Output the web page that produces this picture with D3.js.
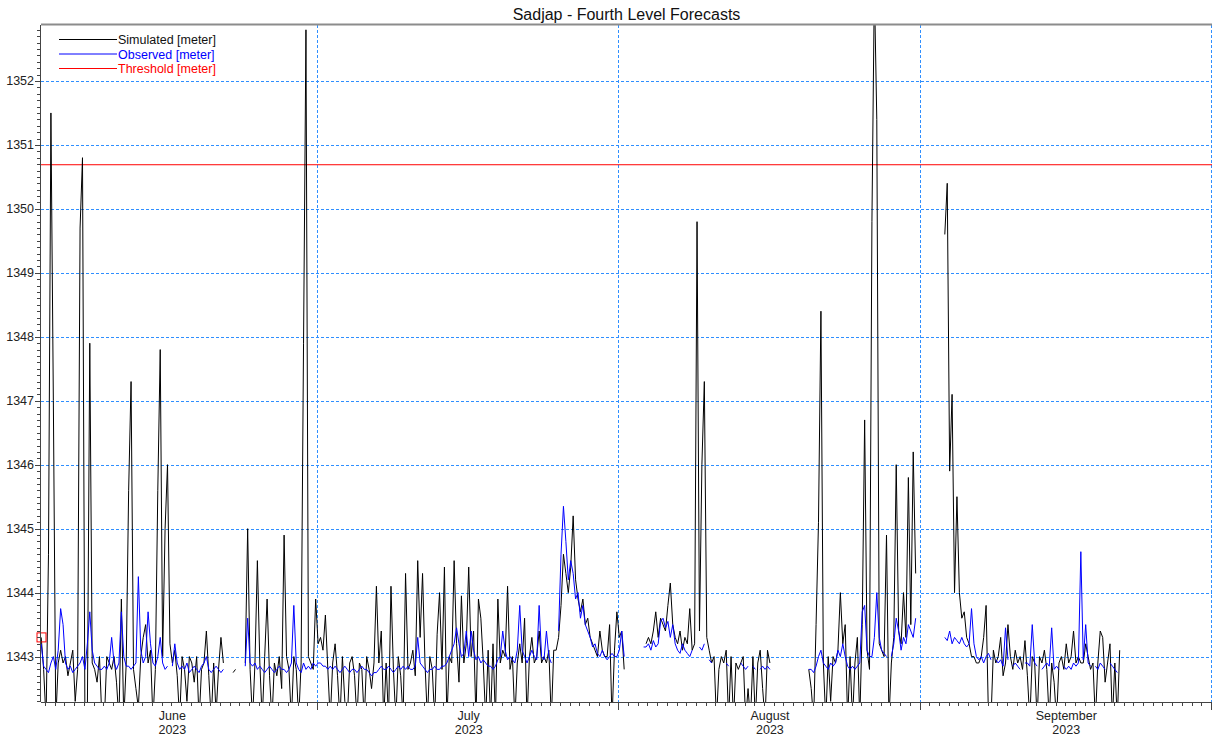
<!DOCTYPE html>
<html><head><meta charset="utf-8">
<script src="https://cdn.jsdelivr.net/npm/d3@7"></script>
<style>
html,body{margin:0;padding:0;background:#fff;}
svg text{font-family:"Liberation Sans",Arial,sans-serif;}
</style>
</head><body>
<svg id="chart" width="1214" height="739"></svg>
<script>
// ---------- data ----------
const chartTitle = "Sadjap - Fourth Level Forecasts";
const seriesNames = ["Simulated [meter]", "Observed [meter]", "Threshold [meter]"];
const seriesColors = ["#000000", "#0000ff", "#ff0000"];
const startTime = "2023-06-02T00:00:00Z";   // each row: 00:00, 06:00, 12:00, 18:00
const stepHours = 6;
const domainStart = "2023-06-02T11:30:00Z";
const domainEnd = "2023-10-01T00:00:00Z";
const yMin = 1342.29, yMax = 1352.875;
const yTickValues = [1343, 1344, 1345, 1346, 1347, 1348, 1349, 1350, 1351, 1352];
const monthLabels = ["June", "July", "August", "September"];
const yearLabel = "2023";
const thresholdValue = 1350.69;
const currentMarkerValue = 1343.3;
const N = null;

const simulated = [
/*Jun02*/ N,N,1343.3,1342.8,
/*Jun03*/ 1342.0,1344.6,1351.5,1347.0,
/*Jun04*/ 1342.0,1342.9,1343.1,1342.9,
/*Jun05*/ 1343.0,1342.7,1342.9,1343.1,
/*Jun06*/ 1342.3,1342.8,1349.7,1350.8,
/*Jun07*/ 1342.0,1342.1,1347.9,1342.9,
/*Jun08*/ 1342.8,1342.6,1343.0,1342.0,
/*Jun09*/ 1342.0,1343.0,1342.9,1342.8,
/*Jun10*/ 1343.0,1342.6,1342.0,1343.9,
/*Jun11*/ 1342.0,1342.9,1345.6,1347.3,
/*Jun12*/ 1342.8,1342.5,1342.2,1343.0,
/*Jun13*/ 1343.3,1343.5,1342.9,1343.1,
/*Jun14*/ 1342.0,1342.8,1345.6,1347.8,
/*Jun15*/ 1343.0,1345.0,1346.0,1343.2,
/*Jun16*/ 1342.9,1343.1,1342.7,1342.0,
/*Jun17*/ 1343.0,1342.8,1342.3,1343.0,
/*Jun18*/ 1342.9,1342.6,1343.0,1342.0,
/*Jun19*/ 1342.8,1342.9,1343.4,1342.7,
/*Jun20*/ 1342.0,1342.9,1342.1,1342.8,
/*Jun21*/ 1343.3,1342.9,N,N,
/*Jun22*/ N,1342.75,1342.8,N,
/*Jun23*/ N,N,1342.9,1345.0,
/*Jun24*/ 1342.8,1342.0,1342.9,1344.5,
/*Jun25*/ 1342.9,1342.0,1343.0,1343.9,
/*Jun26*/ 1342.7,1342.0,1342.9,1342.7,
/*Jun27*/ 1343.0,1342.5,1344.9,1343.0,
/*Jun28*/ 1342.8,1342.0,1343.0,1342.8,
/*Jun29*/ 1342.0,1342.9,1347.9,1352.8,
/*Jun30*/ 1343.0,1342.9,1342.8,1343.9,
/*Jul01*/ 1343.2,1343.3,1343.1,1343.65,
/*Jul02*/ 1342.8,1342.0,1342.9,1343.2,
/*Jul03*/ 1342.7,1342.0,1343.0,1342.3,
/*Jul04*/ 1342.0,1342.9,1343.0,1342.7,
/*Jul05*/ 1342.0,1342.9,1342.8,1342.0,
/*Jul06*/ 1343.0,1342.8,1342.5,1342.9,
/*Jul07*/ 1344.1,1342.9,1343.4,1342.0,
/*Jul08*/ 1342.9,1342.0,1344.1,1342.8,
/*Jul09*/ 1342.0,1343.0,1342.7,1342.0,
/*Jul10*/ 1344.3,1342.8,1342.9,1343.1,
/*Jul11*/ 1342.7,1344.5,1343.3,1344.3,
/*Jul12*/ 1342.9,1342.0,1343.0,1342.8,
/*Jul13*/ 1342.0,1343.35,1344.0,1342.8,
/*Jul14*/ 1344.4,1342.0,1343.0,1342.9,
/*Jul15*/ 1344.5,1343.2,1342.6,1343.95,
/*Jul16*/ 1342.9,1343.2,1344.4,1343.0,
/*Jul17*/ 1343.4,1342.0,1343.9,1343.6,
/*Jul18*/ 1342.9,1342.0,1343.1,1342.0,
/*Jul19*/ 1343.2,1342.0,1343.9,1342.9,
/*Jul20*/ 1343.1,1343.0,1344.1,1342.8,
/*Jul21*/ 1343.0,1342.0,1342.9,1343.2,
/*Jul22*/ 1342.9,1343.6,1342.0,1343.0,
/*Jul23*/ 1343.3,1342.9,1343.0,1343.4,
/*Jul24*/ 1342.9,1343.0,1342.9,1343.1,
/*Jul25*/ 1342.0,1343.1,1343.1,1343.3,
/*Jul26*/ 1343.8,1344.6,1344.3,1344.0,
/*Jul27*/ 1344.4,1345.2,1344.2,1343.9,
/*Jul28*/ 1343.7,1343.9,1343.5,1343.6,
/*Jul29*/ 1343.3,1343.2,1343.1,1343.0,
/*Jul30*/ 1343.4,1343.1,1343.0,1343.0,
/*Jul31*/ 1343.5,1342.0,1343.1,1343.7,
/*Aug01*/ 1343.3,1343.4,1342.8,N,
/*Aug02*/ N,N,N,N,
/*Aug03*/ N,N,N,1343.2,
/*Aug04*/ 1343.3,1343.2,1343.4,1343.7,
/*Aug05*/ 1343.3,1343.6,1343.5,1343.4,
/*Aug06*/ 1343.8,1344.15,1343.5,1343.3,
/*Aug07*/ 1343.2,1343.4,1343.1,1343.3,
/*Aug08*/ 1343.2,1343.75,1343.1,1343.2,
/*Aug09*/ 1349.8,1343.4,1346.0,1347.3,
/*Aug10*/ 1343.3,1343.1,1342.9,1343.0,
/*Aug11*/ 1342.0,1342.8,1343.0,1342.9,
/*Aug12*/ 1343.1,1342.0,1343.0,1342.0,
/*Aug13*/ 1342.9,1342.8,1342.9,1343.0,
/*Aug14*/ 1342.0,1342.5,1342.0,1343.0,
/*Aug15*/ 1342.0,1342.9,1343.1,1342.5,
/*Aug16*/ 1342.0,1343.1,1342.9,N,
/*Aug17*/ N,N,N,N,
/*Aug18*/ N,N,N,N,
/*Aug19*/ N,N,N,N,
/*Aug20*/ N,N,1342.8,1342.5,
/*Aug21*/ 1342.0,1343.5,1345.1,1348.4,
/*Aug22*/ 1342.9,1342.0,1343.0,1342.3,
/*Aug23*/ 1343.0,1342.9,1343.1,1344.0,
/*Aug24*/ 1343.2,1343.5,1342.0,1343.0,
/*Aug25*/ 1342.0,1342.9,1343.3,1342.0,
/*Aug26*/ 1343.5,1346.7,1343.1,1342.8,
/*Aug27*/ 1349.8,1353.5,1351.4,1343.2,
/*Aug28*/ 1343.1,1343.0,1344.9,1342.0,
/*Aug29*/ 1342.9,1343.3,1346.0,1343.4,
/*Aug30*/ 1343.2,1344.0,1343.3,1345.8,
/*Aug31*/ 1343.5,1346.2,1344.3,N,
/*Sep01*/ N,N,N,N,
/*Sep02*/ N,N,N,N,
/*Sep03*/ N,N,1349.6,1350.4,
/*Sep04*/ 1345.9,1347.1,1344.0,1345.5,
/*Sep05*/ 1344.0,1343.6,1343.7,1343.3,
/*Sep06*/ 1343.2,1343.0,1343.0,1342.9,
/*Sep07*/ 1342.9,1343.0,1343.3,1343.8,
/*Sep08*/ 1342.0,1342.0,1343.1,1342.9,
/*Sep09*/ 1343.0,1343.3,1342.7,1342.9,
/*Sep10*/ 1343.5,1343.0,1342.8,1343.1,
/*Sep11*/ 1342.9,1343.0,1342.8,1343.25,
/*Sep12*/ 1342.7,1342.0,1343.0,1342.9,
/*Sep13*/ 1342.0,1343.0,1342.9,1343.1,
/*Sep14*/ 1342.8,1342.0,1342.9,1342.6,
/*Sep15*/ 1342.0,1342.9,1343.0,1342.8,
/*Sep16*/ 1343.2,1342.9,1343.0,1343.4,
/*Sep17*/ 1342.9,1343.0,1342.9,1342.9,
/*Sep18*/ 1343.2,1343.0,1342.8,1342.9,
/*Sep19*/ 1342.0,1342.9,1343.4,1343.3,
/*Sep20*/ 1342.6,1342.9,1343.2,1342.0,
/*Sep21*/ 1342.9,1342.0,1343.1,N
];

const observed = [
/*Jun02*/ N,N,1343.2,1342.85,
/*Jun03*/ 1342.8,1342.75,1342.9,1343.0,
/*Jun04*/ 1342.8,1343.1,1343.75,1343.5,
/*Jun05*/ 1342.9,1342.8,1342.85,1342.75,
/*Jun06*/ 1342.8,1342.85,1342.9,1343.0,
/*Jun07*/ 1342.8,1343.2,1343.7,1343.1,
/*Jun08*/ 1342.9,1342.85,1342.8,1342.8,
/*Jun09*/ 1342.85,1342.8,1342.9,1343.3,
/*Jun10*/ 1342.9,1342.8,1342.9,1343.7,
/*Jun11*/ 1343.0,1342.85,1342.85,1342.8,
/*Jun12*/ 1342.85,1342.9,1344.25,1343.1,
/*Jun13*/ 1342.9,1343.0,1343.7,1343.2,
/*Jun14*/ 1342.9,1342.85,1343.0,1343.3,
/*Jun15*/ 1342.9,1342.8,1342.85,N,
/*Jun16*/ 1342.85,1343.2,1342.9,1342.8,
/*Jun17*/ 1342.85,1342.8,1342.9,1342.75,
/*Jun18*/ 1342.8,1342.85,1342.8,1342.75,
/*Jun19*/ 1342.85,1342.9,1343.0,1342.8,
/*Jun20*/ 1342.75,1342.8,1342.85,1342.8,
/*Jun21*/ 1342.75,1342.8,N,N,
/*Jun22*/ N,N,1342.9,N,
/*Jun23*/ N,N,1342.85,1343.6,
/*Jun24*/ 1342.9,1342.85,1342.9,1342.8,
/*Jun25*/ 1342.85,1342.8,1342.75,1342.8,
/*Jun26*/ 1342.85,1342.8,1342.75,1342.8,
/*Jun27*/ 1342.85,1342.8,1342.8,1342.75,
/*Jun28*/ 1342.8,1342.9,1343.8,1342.9,
/*Jun29*/ 1342.8,1342.75,1342.9,1342.8,
/*Jun30*/ 1342.85,1342.8,1342.9,1342.85,
/*Jul01*/ 1342.9,1342.9,1342.85,1342.85,
/*Jul02*/ 1342.8,1342.85,1342.8,1342.85,
/*Jul03*/ 1342.8,1342.75,1342.8,1342.85,
/*Jul04*/ 1342.8,1342.75,1342.8,1342.8,
/*Jul05*/ 1342.75,1342.8,1342.85,1342.8,
/*Jul06*/ 1342.8,1342.75,1342.7,1342.75,
/*Jul07*/ 1342.75,1342.8,1342.85,1342.8,
/*Jul08*/ 1342.8,1342.85,1342.8,1342.75,
/*Jul09*/ 1342.8,1342.85,1342.8,1342.85,
/*Jul10*/ 1342.8,1342.85,1342.8,1342.8,
/*Jul11*/ 1342.85,1343.3,1342.9,1342.85,
/*Jul12*/ 1342.8,1342.75,1342.8,1342.8,
/*Jul13*/ 1342.85,1342.8,1342.8,1342.85,
/*Jul14*/ 1342.85,1342.9,1343.0,1343.1,
/*Jul15*/ 1343.2,1343.45,1343.2,1343.0,
/*Jul16*/ 1343.05,1343.4,1343.0,1343.4,
/*Jul17*/ 1343.1,1342.95,1343.0,1342.9,
/*Jul18*/ 1342.95,1342.9,1342.85,1342.85,
/*Jul19*/ 1342.8,1342.85,1342.95,1343.0,
/*Jul20*/ 1343.4,1343.1,1342.95,1343.0,
/*Jul21*/ 1342.95,1342.9,1343.1,1343.8,
/*Jul22*/ 1343.1,1343.0,1342.9,1343.0,
/*Jul23*/ 1343.1,1343.0,1342.95,1343.8,
/*Jul24*/ 1343.0,1342.95,1343.4,1343.0,
/*Jul25*/ 1342.9,N,N,1343.4,
/*Jul26*/ 1344.6,1345.35,1344.8,1344.2,
/*Jul27*/ 1344.5,1344.3,1343.9,1344.0,
/*Jul28*/ 1343.6,1343.8,1343.5,1343.4,
/*Jul29*/ 1343.3,1343.15,1343.2,1343.05,
/*Jul30*/ 1343.0,1343.1,1343.0,1342.95,
/*Jul31*/ 1343.0,1343.05,1343.0,1343.0,
/*Aug01*/ 1343.1,1343.4,1343.0,N,
/*Aug02*/ N,N,N,N,
/*Aug03*/ N,N,1343.15,1343.15,
/*Aug04*/ 1343.2,1343.1,1343.25,1343.15,
/*Aug05*/ 1343.2,1343.55,1343.6,1343.45,
/*Aug06*/ 1343.55,1343.3,1343.5,1343.2,
/*Aug07*/ 1343.1,1343.05,1343.2,1343.1,
/*Aug08*/ 1343.05,1343.0,1343.1,N,
/*Aug09*/ N,1343.15,1343.1,1343.2,
/*Aug10*/ N,1342.95,1342.9,N,
/*Aug11*/ 1342.85,N,N,N,
/*Aug12*/ 1342.9,1342.85,N,N,
/*Aug13*/ N,N,1342.9,1342.85,
/*Aug14*/ 1342.8,1342.85,N,1342.85,
/*Aug15*/ 1342.8,N,1342.8,1342.85,
/*Aug16*/ 1342.8,1342.85,1342.8,N,
/*Aug17*/ N,N,N,N,
/*Aug18*/ N,N,N,N,
/*Aug19*/ N,N,N,N,
/*Aug20*/ N,N,1342.8,1342.8,
/*Aug21*/ 1342.75,1342.85,1343.0,1343.1,
/*Aug22*/ 1342.9,1342.85,1342.8,1342.9,
/*Aug23*/ 1342.85,1342.9,1343.1,1343.0,
/*Aug24*/ 1343.2,1343.0,1342.85,1342.8,
/*Aug25*/ 1342.85,1342.8,1342.85,1342.9,
/*Aug26*/ 1343.7,1343.8,1343.1,1343.0,
/*Aug27*/ 1343.0,1343.3,1344.0,1343.3,
/*Aug28*/ 1343.1,1343.05,1343.0,N,
/*Aug29*/ 1343.0,1343.2,1343.6,1343.4,
/*Aug30*/ 1343.1,1343.3,1343.2,1343.5,
/*Aug31*/ 1343.4,1343.3,1343.6,N,
/*Sep01*/ N,N,N,N,
/*Sep02*/ N,N,N,N,
/*Sep03*/ N,N,1343.3,1343.25,
/*Sep04*/ 1343.4,1343.2,1343.3,1343.25,
/*Sep05*/ 1343.2,1343.3,1343.2,1343.15,
/*Sep06*/ 1343.2,1343.75,1343.2,1343.0,
/*Sep07*/ 1342.95,1343.0,1342.9,1343.0,
/*Sep08*/ 1343.05,1342.95,N,1342.95,
/*Sep09*/ 1342.9,1342.95,1342.85,1343.45,
/*Sep10*/ 1342.95,N,1342.85,1342.9,
/*Sep11*/ 1342.85,1342.8,N,1342.9,
/*Sep12*/ 1342.9,1342.85,1343.5,1342.9,
/*Sep13*/ 1342.85,N,1342.8,1342.85,
/*Sep14*/ 1342.9,1342.85,1343.45,1342.8,
/*Sep15*/ 1342.85,1342.8,N,1342.85,
/*Sep16*/ 1342.8,1342.85,1342.8,1342.9,
/*Sep17*/ 1342.85,1342.9,1344.64,1342.95,
/*Sep18*/ 1343.5,1342.9,1342.85,N,
/*Sep19*/ 1342.85,1342.8,1342.9,1342.85,
/*Sep20*/ 1342.8,N,1342.9,1342.85,
/*Sep21*/ 1342.8,1342.75,N,N
];

// ---------- layout ----------
const W = 1214, H = 739;
const m = {left: 41, right: 2, top: 25, bottom: 37};
const pw = W - m.left - m.right, ph = H - m.top - m.bottom;
const svg = d3.select("#chart");
const t0 = new Date(startTime);
const toPts = arr => arr.map((v, i) => ({t: d3.utcHour.offset(t0, i * stepHours), v}));

const x = d3.scaleUtc().domain([new Date(domainStart), new Date(domainEnd)]).range([m.left, m.left + pw]);
const y = d3.scaleLinear().domain([yMin, yMax]).range([m.top + ph, m.top]);

svg.append("defs").append("clipPath").attr("id", "clip")
  .append("rect").attr("x", m.left).attr("y", m.top).attr("width", pw).attr("height", ph);

// grid
const gridColor = "#2f8fff";
const gridG = svg.append("g").attr("shape-rendering", "crispEdges");
gridG.selectAll(".hg").data(yTickValues).join("line").attr("class", "hg")
  .attr("x1", m.left).attr("x2", m.left + pw)
  .attr("y1", d => Math.round(y(d)) + 0.5).attr("y2", d => Math.round(y(d)) + 0.5)
  .attr("stroke", gridColor).attr("stroke-dasharray", "3,2").attr("stroke-width", 1);
const monthStarts = d3.utcMonth.range(d3.utcMonth.ceil(x.domain()[0]), d3.utcDay.offset(x.domain()[1], 1));
gridG.selectAll(".vg").data(monthStarts).join("line").attr("class", "vg")
  .attr("x1", d => Math.round(x(d)) - 0.5).attr("x2", d => Math.round(x(d)) - 0.5)
  .attr("y1", m.top).attr("y2", m.top + ph)
  .attr("stroke", gridColor).attr("stroke-dasharray", "3,2").attr("stroke-width", 1);

// threshold
svg.append("line").attr("x1", m.left).attr("x2", m.left + pw)
  .attr("y1", y(thresholdValue)).attr("y2", y(thresholdValue))
  .attr("stroke", seriesColors[2]).attr("stroke-width", 1);

// series
const line = d3.line().defined(d => d.v !== null).x(d => x(d.t)).y(d => y(d.v));
const plot = svg.append("g").attr("clip-path", "url(#clip)");
plot.append("path").datum(toPts(simulated)).attr("d", line)
  .attr("fill", "none").attr("stroke", seriesColors[0]).attr("stroke-width", 1);
plot.append("path").datum(toPts(observed)).attr("d", line)
  .attr("fill", "none").attr("stroke", seriesColors[1]).attr("stroke-width", 1);

// current value marker
svg.append("rect").attr("x", m.left - 4).attr("y", y(currentMarkerValue) - 4.5)
  .attr("width", 9).attr("height", 9).attr("fill", "none").attr("stroke", "#ff0000").attr("stroke-width", 1);

// frame
svg.append("line").attr("x1", m.left).attr("x2", m.left + pw).attr("y1", m.top - 0.5).attr("y2", m.top - 0.5)
  .attr("stroke", "#8c8c8c").attr("stroke-width", 2);

// y axis
const yAxis = svg.append("g").attr("shape-rendering", "crispEdges");
yAxis.append("line").attr("x1", m.left - 0.5).attr("x2", m.left - 0.5).attr("y1", m.top).attr("y2", m.top + ph)
  .attr("stroke", "#444");
const minorY = d3.range(Math.ceil(yMin * 10), Math.floor(yMax * 10) + 1).map(d => d / 10);
yAxis.selectAll(".my").data(minorY).join("line").attr("class", "my")
  .attr("x1", m.left - 4).attr("x2", m.left)
  .attr("y1", d => Math.round(y(d)) + 0.5).attr("y2", d => Math.round(y(d)) + 0.5)
  .attr("stroke", "#444");
yAxis.selectAll(".My").data(yTickValues).join("line").attr("class", "My")
  .attr("x1", m.left - 6).attr("x2", m.left)
  .attr("y1", d => Math.round(y(d)) + 0.5).attr("y2", d => Math.round(y(d)) + 0.5)
  .attr("stroke", "#444");
yAxis.selectAll(".yl").data(yTickValues).join("text").attr("class", "yl")
  .attr("x", m.left - 7).attr("y", d => y(d) + 4.5).attr("text-anchor", "end")
  .attr("font-size", 12.5).attr("fill", "#222").text(d => d);

// x axis
const xAxis = svg.append("g").attr("shape-rendering", "crispEdges");
xAxis.append("line").attr("x1", m.left).attr("x2", m.left + pw).attr("y1", m.top + ph + 0.5).attr("y2", m.top + ph + 0.5)
  .attr("stroke", "#444");
const days = d3.utcDay.range(d3.utcDay.ceil(x.domain()[0]), d3.utcHour.offset(x.domain()[1], 1));
xAxis.selectAll(".dt").data(days).join("line").attr("class", "dt")
  .attr("x1", d => Math.round(x(d)) - 0.5).attr("x2", d => Math.round(x(d)) - 0.5)
  .attr("y1", m.top + ph).attr("y2", d => m.top + ph + (d.getUTCDate() === 1 ? 8 : 4))
  .attr("stroke", "#444");
const monthMids = monthLabels.map((lab, i) => {
  const s = new Date(Date.UTC(2023, 5 + i, 1)), e = new Date(Date.UTC(2023, 6 + i, 1));
  return {lab, t: new Date((+s + +e) / 2)};
});
const ml = xAxis.selectAll(".ml").data(monthMids).join("g").attr("class", "ml");
ml.append("text").attr("x", d => x(d.t)).attr("y", 719.5).attr("text-anchor", "middle")
  .attr("font-size", 12.5).attr("fill", "#222").text(d => d.lab);
ml.append("text").attr("x", d => x(d.t)).attr("y", 733.5).attr("text-anchor", "middle")
  .attr("font-size", 12.5).attr("fill", "#222").text(yearLabel);

// title
svg.append("text").attr("x", m.left + pw / 2).attr("y", 19.5).attr("text-anchor", "middle")
  .attr("font-size", 16).attr("fill", "#111").text(chartTitle);

// legend
const lg = svg.append("g").selectAll("g").data(seriesNames).join("g")
  .attr("transform", (d, i) => `translate(59,${39.5 + i * 14.5})`);
lg.append("line").attr("x1", 0).attr("x2", 58).attr("y1", 0).attr("y2", 0)
  .attr("stroke", (d, i) => seriesColors[i]).attr("stroke-width", 1);
lg.append("text").attr("x", 59).attr("y", 4.5).attr("font-size", 12.5)
  .attr("fill", (d, i) => seriesColors[i] === "#000000" ? "#111" : seriesColors[i]).text(d => d);
</script>
</body></html>
